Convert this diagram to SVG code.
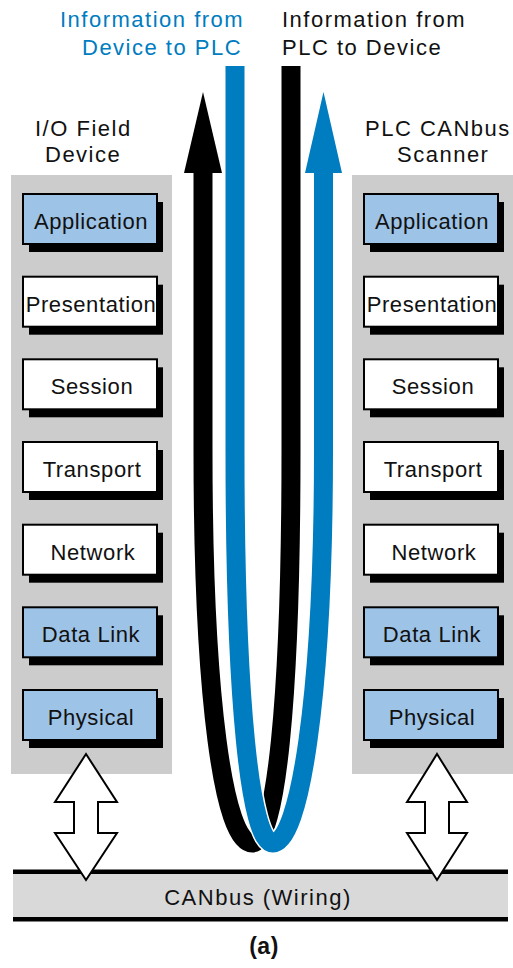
<svg xmlns="http://www.w3.org/2000/svg" width="513" height="968" viewBox="0 0 513 968">
<style>
text{font-family:"Liberation Sans",Arial,sans-serif;fill:#111}
.hdr{font-size:22px;letter-spacing:1.5px}
.lay{font-size:22px;letter-spacing:0.6px;text-anchor:middle}
.panel{fill:#cccccc}
.box{stroke:#000;stroke-width:2}
.blue{fill:#9dc3e6}
.white{fill:#fff}
.shadow{fill:#000}
.dbl{fill:#fff;stroke:#000;stroke-width:2;stroke-linejoin:miter}
</style>
<rect width="513" height="968" fill="#fff"/>

<!-- headers -->
<g id="label-device-to-plc">
<text class="hdr" x="60" y="27" style="fill:#007cc0">Information from</text>
<text class="hdr" x="82" y="55" style="fill:#007cc0">Device to PLC</text>
</g>
<g id="label-plc-to-device">
<text class="hdr" x="282" y="27">Information from</text>
<text class="hdr" x="282" y="55">PLC to Device</text>
</g>

<!-- left stack -->
<g id="io-field-device">
<text class="hdr" x="35" y="136">I/O Field</text>
<text class="hdr" x="45" y="162">Device</text>
<rect class="panel" x="11" y="175" width="161" height="599"/>
</g>
<g id="left-application"><rect class="shadow" x="29" y="202" width="134" height="50"/><rect class="box blue" x="23" y="194" width="134" height="50"/><text class="lay" x="91" y="229">Application</text></g>
<g id="left-presentation"><rect class="shadow" x="29" y="284.7" width="134" height="50"/><rect class="box white" x="23" y="276.7" width="134" height="50"/><text class="lay" x="91" y="311.7">Presentation</text></g>
<g id="left-session"><rect class="shadow" x="29" y="367.3" width="134" height="50"/><rect class="box white" x="23" y="359.3" width="134" height="50"/><text class="lay" x="92" y="394.3">Session</text></g>
<g id="left-transport"><rect class="shadow" x="29" y="450" width="134" height="50"/><rect class="box white" x="23" y="442" width="134" height="50"/><text class="lay" x="92" y="477">Transport</text></g>
<g id="left-network"><rect class="shadow" x="29" y="532.7" width="134" height="50"/><rect class="box white" x="23" y="524.7" width="134" height="50"/><text class="lay" x="93" y="559.7">Network</text></g>
<g id="left-datalink"><rect class="shadow" x="29" y="615.3" width="134" height="50"/><rect class="box blue" x="23" y="607.3" width="134" height="50"/><text class="lay" x="91" y="642.3">Data Link</text></g>
<g id="left-physical"><rect class="shadow" x="29" y="698" width="134" height="50"/><rect class="box blue" x="23" y="690" width="134" height="50"/><text class="lay" x="91" y="725">Physical</text></g>

<!-- right stack -->
<g id="plc-canbus-scanner">
<text class="hdr" x="365" y="136">PLC CANbus</text>
<text class="hdr" x="397" y="162">Scanner</text>
<rect class="panel" x="352" y="175" width="161" height="599"/>
</g>
<g id="right-application"><rect class="shadow" x="370" y="202" width="134" height="50"/><rect class="box blue" x="364" y="194" width="134" height="50"/><text class="lay" x="432" y="229">Application</text></g>
<g id="right-presentation"><rect class="shadow" x="370" y="284.7" width="134" height="50"/><rect class="box white" x="364" y="276.7" width="134" height="50"/><text class="lay" x="432" y="311.7">Presentation</text></g>
<g id="right-session"><rect class="shadow" x="370" y="367.3" width="134" height="50"/><rect class="box white" x="364" y="359.3" width="134" height="50"/><text class="lay" x="433" y="394.3">Session</text></g>
<g id="right-transport"><rect class="shadow" x="370" y="450" width="134" height="50"/><rect class="box white" x="364" y="442" width="134" height="50"/><text class="lay" x="433" y="477">Transport</text></g>
<g id="right-network"><rect class="shadow" x="370" y="532.7" width="134" height="50"/><rect class="box white" x="364" y="524.7" width="134" height="50"/><text class="lay" x="434" y="559.7">Network</text></g>
<g id="right-datalink"><rect class="shadow" x="370" y="615.3" width="134" height="50"/><rect class="box blue" x="364" y="607.3" width="134" height="50"/><text class="lay" x="432" y="642.3">Data Link</text></g>
<g id="right-physical"><rect class="shadow" x="370" y="698" width="134" height="50"/><rect class="box blue" x="364" y="690" width="134" height="50"/><text class="lay" x="432" y="725">Physical</text></g>

<!-- CANbus -->
<g id="canbus">
<rect x="13" y="872" width="495" height="47" fill="#d9d9d9"/>
<line x1="13" y1="871.8" x2="508" y2="871.8" stroke="#000" stroke-width="4.5"/>
<line x1="13" y1="919.2" x2="508" y2="919.2" stroke="#000" stroke-width="4.5"/>
<text x="258" y="905" style="font-size:22px;letter-spacing:1.5px;text-anchor:middle">CANbus (Wiring)</text>
</g>

<!-- connectors -->
<g id="connectors">
<path d="M203,173 L203,450 C203,700 224,843 252,843 C276,843 291,700 291,450 L291,66" fill="none" stroke="#000" stroke-width="19"/>
<polygon points="203,92 222,173 184,173" fill="#000"/>
<path d="M235,66 L235,450 C235,700 250,843 273,843 C299,843 323.5,700 323.5,450 L323.5,173" fill="none" stroke="#fff" stroke-width="22"/>
<path d="M235,66 L235,450 C235,700 250,843 273,843 C299,843 323.5,700 323.5,450 L323.5,173" fill="none" stroke="#007cc0" stroke-width="19"/>
<polygon points="323.5,92 342,173 305,173" fill="#007cc0"/>
<polygon class="dbl" points="86,754 117,802 98,802 98,833 117,833 86,880 55,833 74,833 74,802 55,802"/>
<polygon class="dbl" points="437,754 467,802 449,802 449,833 467,833 437,880 407,833 425,833 425,802 407,802"/>
</g>

<g id="caption">
<text x="264" y="954" style="font-size:23px;font-weight:bold;letter-spacing:0.5px;text-anchor:middle">(a)</text>
</g>
</svg>
